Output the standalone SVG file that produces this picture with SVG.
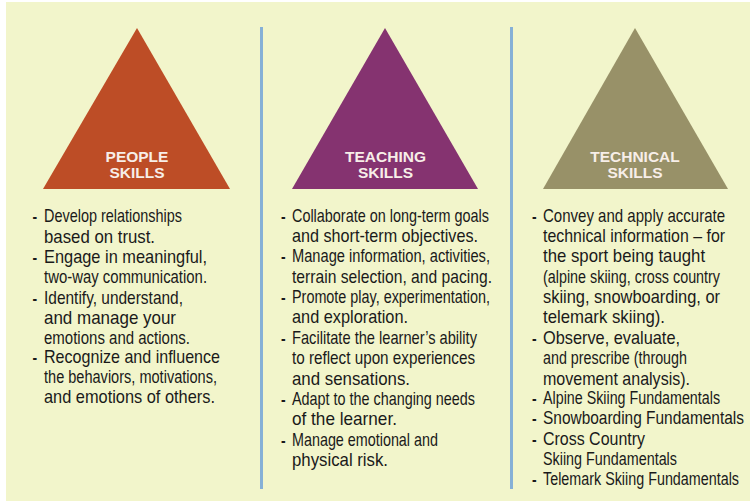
<svg xmlns="http://www.w3.org/2000/svg" width="750" height="501" viewBox="0 0 750 501">
<style>
.bg{fill:#F2F5CB}
.tri-label{font-family:"Liberation Sans",Arial,sans-serif;font-weight:bold;font-size:15.5px;fill:#F7EEE8;text-anchor:middle}
.item{font-family:"Liberation Sans",Arial,sans-serif;font-size:18px;fill:#1A1A1A}
.sm{font-size:17.5px}
.dash{font-family:"Liberation Sans",Arial,sans-serif;font-size:17px;font-weight:bold;fill:#1A1A1A}
.sep{stroke:#86B0D6;stroke-width:3}
</style>
<rect x="0" y="0" width="750" height="501" fill="#FFFFFF"/>
<rect class="bg" x="6" y="2" width="744" height="499"/>
<g id="connectors">
<line class="sep" x1="261.5" y1="27" x2="261.5" y2="489"/>
<line class="sep" x1="511.5" y1="27" x2="511.5" y2="489"/>
</g>
<g id="people-skills">
<polygon points="137,28 230,189 43,189" fill="#BD4D26"/>
<text class="tri-label" x="137" y="161.5">PEOPLE</text>
<text class="tri-label" x="137" y="178">SKILLS</text>
</g>
<g id="teaching-skills">
<polygon points="385,28 478,189 292,189" fill="#853370"/>
<text class="tri-label" x="385.5" y="161.5">TEACHING</text>
<text class="tri-label" x="385.5" y="178">SKILLS</text>
</g>
<g id="technical-skills">
<polygon points="635,28 728,189 543,189" fill="#989168"/>
<text class="tri-label" x="635" y="161.5">TECHNICAL</text>
<text class="tri-label" x="635" y="178">SKILLS</text>
</g>
<g id="people-list" transform="translate(44,0) scale(0.82,1)">
<text class="dash" x="-14" y="222">-</text>
<text class="item" x="0" y="222" textLength="168.3" lengthAdjust="spacingAndGlyphs">Develop relationships</text>
<text class="item" x="0" y="243" textLength="135.4" lengthAdjust="spacingAndGlyphs">based on trust.</text>
<text class="dash" x="-14" y="263">-</text>
<text class="item" x="0" y="263" textLength="198.8" lengthAdjust="spacingAndGlyphs">Engage in meaningful,</text>
<text class="item sm" x="0" y="283" textLength="198.8" lengthAdjust="spacingAndGlyphs">two-way communication.</text>
<text class="dash" x="-14" y="304">-</text>
<text class="item" x="0" y="304" textLength="169.5" lengthAdjust="spacingAndGlyphs">Identify, understand,</text>
<text class="item" x="0" y="324" textLength="161" lengthAdjust="spacingAndGlyphs">and manage your</text>
<text class="item sm" x="0" y="344" textLength="178" lengthAdjust="spacingAndGlyphs">emotions and actions.</text>
<text class="dash" x="-14" y="363">-</text>
<text class="item" x="0" y="363" textLength="214.6" lengthAdjust="spacingAndGlyphs">Recognize and influence</text>
<text class="item sm" x="0" y="383" textLength="211" lengthAdjust="spacingAndGlyphs">the behaviors, motivations,</text>
<text class="item" x="0" y="403" textLength="208.5" lengthAdjust="spacingAndGlyphs">and emotions of others.</text>
</g>
<g id="teaching-list" transform="translate(292,0) scale(0.82,1)">
<text class="dash" x="-13.4" y="222">-</text>
<text class="item" x="0" y="222" textLength="240.2" lengthAdjust="spacingAndGlyphs">Collaborate on long-term goals</text>
<text class="item" x="0" y="242" textLength="226.8" lengthAdjust="spacingAndGlyphs">and short-term objectives.</text>
<text class="dash" x="-13.4" y="262">-</text>
<text class="item sm" x="0" y="262" textLength="241.5" lengthAdjust="spacingAndGlyphs">Manage information, activities,</text>
<text class="item" x="0" y="283" textLength="243.9" lengthAdjust="spacingAndGlyphs">terrain selection, and pacing.</text>
<text class="dash" x="-13.4" y="303">-</text>
<text class="item sm" x="0" y="303" textLength="241.5" lengthAdjust="spacingAndGlyphs">Promote play, experimentation,</text>
<text class="item" x="0" y="323" textLength="141.5" lengthAdjust="spacingAndGlyphs">and exploration.</text>
<text class="dash" x="-13.4" y="344">-</text>
<text class="item" x="0" y="344" textLength="225.6" lengthAdjust="spacingAndGlyphs">Facilitate the learner’s ability</text>
<text class="item" x="0" y="364" textLength="223.2" lengthAdjust="spacingAndGlyphs">to reflect upon experiences</text>
<text class="item" x="0" y="385" textLength="143.9" lengthAdjust="spacingAndGlyphs">and sensations.</text>
<text class="dash" x="-13.4" y="405">-</text>
<text class="item" x="0" y="405" textLength="223.2" lengthAdjust="spacingAndGlyphs">Adapt to the changing needs</text>
<text class="item" x="0" y="425" textLength="128" lengthAdjust="spacingAndGlyphs">of the learner.</text>
<text class="dash" x="-13.4" y="446">-</text>
<text class="item" x="0" y="446" textLength="178" lengthAdjust="spacingAndGlyphs">Manage emotional and</text>
<text class="item" x="0" y="466" textLength="117.1" lengthAdjust="spacingAndGlyphs">physical risk.</text>
</g>
<g id="technical-list" transform="translate(543,0) scale(0.82,1)">
<text class="dash" x="-13.4" y="222">-</text>
<text class="item" x="0" y="222" textLength="222" lengthAdjust="spacingAndGlyphs">Convey and apply accurate</text>
<text class="item" x="0" y="242" textLength="222" lengthAdjust="spacingAndGlyphs">technical information – for</text>
<text class="item" x="0" y="262" textLength="197.6" lengthAdjust="spacingAndGlyphs">the sport being taught</text>
<text class="item sm" x="0" y="283" textLength="215.9" lengthAdjust="spacingAndGlyphs">(alpine skiing, cross country</text>
<text class="item" x="0" y="303" textLength="215.9" lengthAdjust="spacingAndGlyphs">skiing, snowboarding, or</text>
<text class="item" x="0" y="323" textLength="148.8" lengthAdjust="spacingAndGlyphs">telemark skiing).</text>
<text class="dash" x="-13.4" y="344">-</text>
<text class="item" x="0" y="344" textLength="167.1" lengthAdjust="spacingAndGlyphs">Observe, evaluate,</text>
<text class="item sm" x="0" y="364" textLength="175.6" lengthAdjust="spacingAndGlyphs">and prescribe (through</text>
<text class="item" x="0" y="385" textLength="179.3" lengthAdjust="spacingAndGlyphs">movement analysis).</text>
<text class="dash" x="-13.4" y="404">-</text>
<text class="item sm" x="0" y="404" textLength="215.9" lengthAdjust="spacingAndGlyphs">Alpine Skiing Fundamentals</text>
<text class="dash" x="-13.4" y="424">-</text>
<text class="item" x="0" y="424" textLength="245.1" lengthAdjust="spacingAndGlyphs">Snowboarding Fundamentals</text>
<text class="dash" x="-13.4" y="445">-</text>
<text class="item" x="0" y="445" textLength="124.4" lengthAdjust="spacingAndGlyphs">Cross Country</text>
<text class="item sm" x="0" y="465" textLength="163.4" lengthAdjust="spacingAndGlyphs">Skiing Fundamentals</text>
<text class="dash" x="-13.4" y="485">-</text>
<text class="item sm" x="0" y="485" textLength="239" lengthAdjust="spacingAndGlyphs">Telemark Skiing Fundamentals</text>
</g>
</svg>
